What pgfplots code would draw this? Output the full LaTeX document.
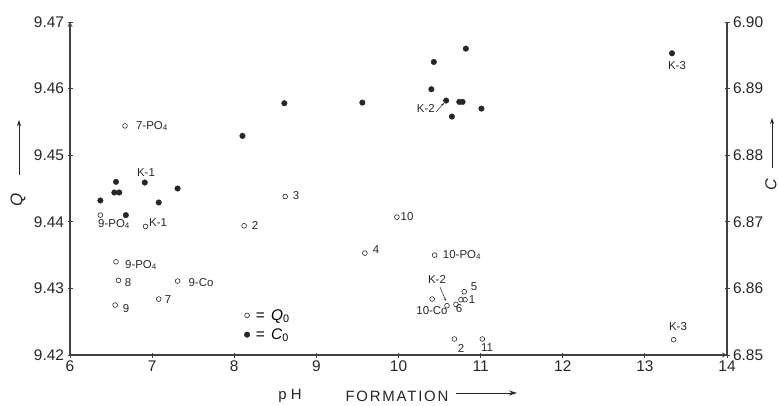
\documentclass[border=0pt]{standalone}
\usepackage{pgfplots}
\pgfplotsset{compat=1.18}
\usepackage{fontspec}
\setmainfont{Liberation Sans}
\usetikzlibrary{arrows.meta}

% Q (open circles, left axis)
\pgfplotstableread{
x      q
6.67   9.4544
6.37   9.4410
6.92   9.4393
8.12   9.4394
8.62   9.4438
9.98   9.4407
9.59   9.4353
10.44  9.4350
6.56   9.4340
6.59   9.4312
7.31   9.4311
7.08   9.4284
6.55   9.4275
10.41  9.4284
10.59  9.4274
10.70  9.4276
10.80  9.4295
10.76  9.4283
10.81  9.4283
10.68  9.4224
11.02  9.4224
13.35  9.4223
}\qdata

% C (filled dots, right axis)
\pgfplotstableread{
x      c
8.10   6.8829
6.56   6.8760
6.54   6.8744
6.60   6.8744
6.91   6.8759
7.31   6.8750
6.37   6.8732
7.08   6.8729
6.68   6.8710
8.61   6.8878
9.56   6.8879
10.82  6.8960
10.43  6.8940
10.40  6.8899
10.58  6.8882
10.74  6.8880
10.78  6.8880
11.01  6.8870
10.65  6.8858
13.33  6.8953
}\cdata

\begin{document}
\begin{tikzpicture}[x=1bp,y=1bp]
\useasboundingbox (0,0) rectangle (779,405);
\pgfplotsset{
  base/.style={
    at={(70bp,50bp)}, anchor=south west,
    scale only axis, width=657bp, height=333bp,
    xmin=6, xmax=14,
    axis line style={line width=1.2pt, black!75, -},
    major tick style={line width=0.8pt, black!75},
    major tick length=5bp, tick align=center,
    tick label style={font=\fontsize{15.5}{17}\selectfont, text=black!85},
    /pgf/number format/assume math mode=true,
    yticklabel style={/pgf/number format/.cd, fixed, fixed zerofill, precision=2},
  },
}
\tikzset{lab/.style={font=\fontsize{11.5}{13}\selectfont, inner sep=0pt, text=black!85}}
\begin{axis}[base,
  axis x line=bottom, axis y line=left,
  ymin=9.42, ymax=9.47,
  xtick={6,7,8,9,10,11,12,13,14},
  ytick={9.42,9.43,9.44,9.45,9.46,9.47},
]
\addplot[only marks, mark=o, mark size=2.4pt, mark options={black!85, line width=0.6pt}] table[x=x, y=q] {\qdata};
\end{axis}
\begin{axis}[base,
  axis x line=none, axis y line*=right,
  ymin=6.85, ymax=6.90,
  ytick={6.85,6.86,6.87,6.88,6.89,6.90},
  legend style={at={(axis cs:8.12,6.8545)}, anchor=west, draw=none, fill=none,
    font=\fontsize{15.5}{17}\selectfont, row sep=3bp, inner sep=0pt},
  legend cell align=left,
]
\addplot[only marks, mark=*, mark size=2.8pt, black!85, forget plot] table[x=x, y=c] {\cdata};
\addlegendimage{only marks, mark=o, mark size=2.4pt, black!85, mark options={line width=0.6pt}}
\addlegendentry{\hspace{4bp}= \hspace{2bp}\textit{Q}\textsubscript{0}}
\addlegendimage{only marks, mark=*, mark size=2.8pt, black!85}
\addlegendentry{\hspace{4bp}= \hspace{2bp}\textit{C}\textsubscript{0}}
\end{axis}

% point labels
\node[lab] at (152,279) {7-PO\textsubscript{4}};
\node[lab, anchor=west] at (98,181) {9-PO\textsubscript{4}};
\node[lab, anchor=west] at (149,182) {K-1};
\node[lab] at (255,180) {2};
\node[lab] at (296,209) {3};
\node[lab] at (407,188) {10};
\node[lab] at (376,155) {4};
\node[lab] at (462,150) {10-PO\textsubscript{4}};
\node[lab] at (141,140) {9-PO\textsubscript{4}};
\node[lab] at (128,122) {8};
\node[lab] at (201,122) {9-Co};
\node[lab] at (168,105) {7};
\node[lab] at (126,96) {9};
\node[lab] at (432,94) {10-Co};
\node[lab] at (437,126) {K-2};
\draw[-{Stealth[length=3bp]}, black!85, line width=0.5pt] (440,118) -- (446,104);
\node[lab] at (474,118) {5};
\node[lab] at (472,105) {1};
\node[lab] at (459,96) {6};
\node[lab] at (461,57) {2};
\node[lab] at (487,57) {11};
\node[lab] at (678,78) {K-3};
\node[lab] at (146,232) {K-1};
\node[lab, anchor=east] at (435,297) {K-2};
\draw[-{Stealth[length=3bp]}, black!85, line width=0.5pt] (436,293) -- (444,302);
\node[lab] at (677,339) {K-3};

% axis titles
\node[rotate=90, font=\fontsize{17}{19}\selectfont\itshape, text=black!85] at (18,205) {Q};
\draw[-{Stealth[length=6bp, width=4bp]}, black!85, line width=0.8pt] (19,230) -- (19,285);
\node[rotate=90, font=\fontsize{16}{18}\selectfont\itshape, text=black!85, inner sep=0pt] at (771,220) {C};
\draw[-{Stealth[length=6bp, width=4bp]}, black!85, line width=0.8pt] (772,237) -- (772,287);
\node[font=\fontsize{15}{17}\selectfont, text=black!85] at (290,9) {p\hspace{4bp}H};
\node[font=\fontsize{15}{17}\selectfont, text=black!85] at (397,9) {\addfontfeature{LetterSpace=12}FORMATION};
\draw[-{Stealth[length=8bp, width=5bp]}, black!85, line width=0.8pt] (456,12) -- (517,12);
\end{tikzpicture}
\end{document}
